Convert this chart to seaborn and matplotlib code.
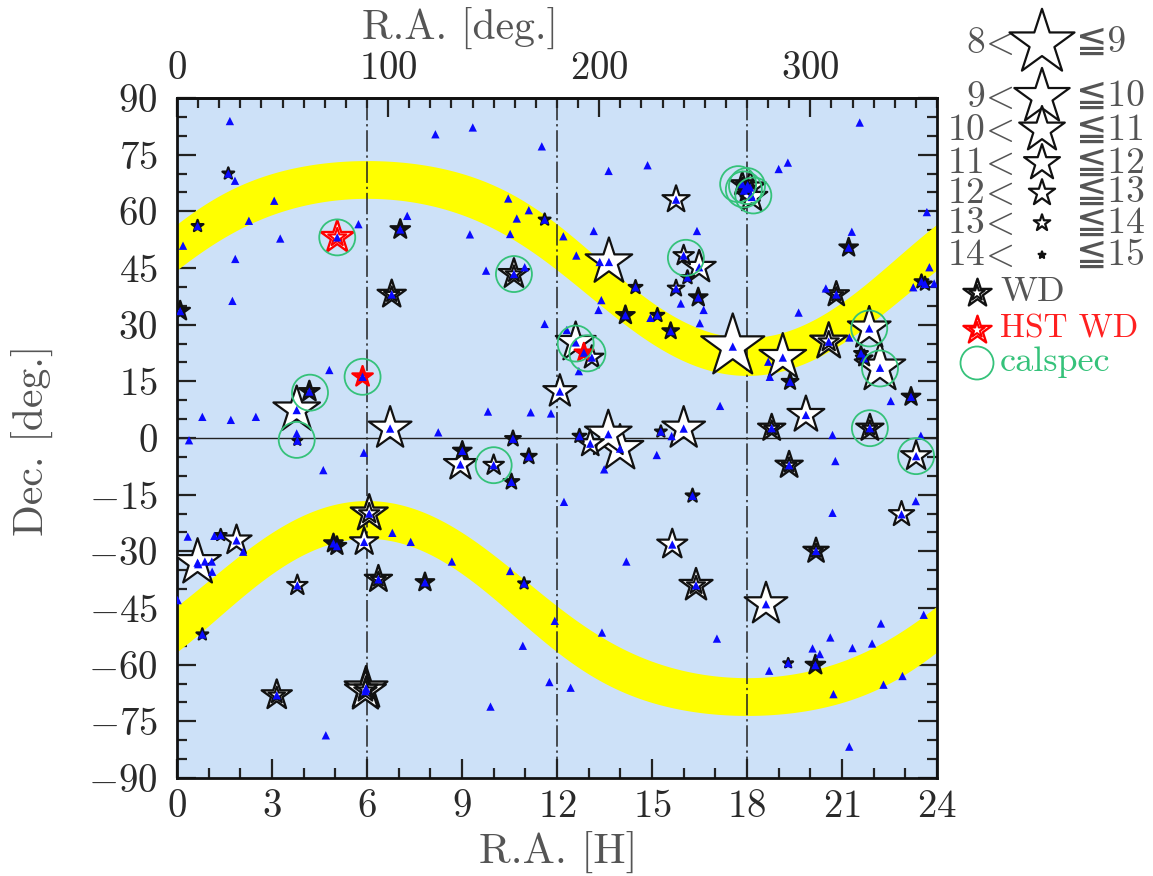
import numpy as np
import pandas as pd
import matplotlib
matplotlib.use("Agg")
import matplotlib.pyplot as plt
import seaborn as sns
from matplotlib.ticker import MultipleLocator

# ---------------- data ----------------
# ordinary standard stars (white stars): R.A. [h], Dec [deg], V magnitude
star_ra = [3.78, 6.73, 15.76, 13.64, 12.59, 13.10, 12.09, 17.55, 19.13, 21.86, 22.20, 19.86, 16.00, 16.00,
           16.49, 15.76, 18.15, 18.10, 13.62, 13.99, 13.05, 8.95, 10.00, 5.91, 3.80, 0.65, 1.88, 15.64,
           18.60, 22.88, 23.34]
star_dec = [7.4, 2.5, 63.1, 46.6, 25.3, 21.3, 12.3, 24.2, 21.3, 29.0, 18.6, 6.1, 2.5, 48.3, 45.2, 39.6,
            63.8, 66.3, 1.0, -2.8, -1.5, -7.0, -7.2, -27.5, -39.0, -33.0, -27.1, -28.2, -44.0, -20.2, -4.8]
star_mag = [10.4, 10.8, 12.4, 10.4, 11.1, 12.8, 11.8, 8.7, 10.4, 10.8, 10.0, 11.4, 10.8, 13.1, 11.8, 13.5,
            12.0, 12.0, 10.4, 10.4, 12.4, 11.8, 13.1, 12.3, 13.1, 10.4, 12.1, 12.1, 10.8, 12.6, 12.1]

# white dwarfs
wd_ra = [1.62, 0.65, 7.05, 0.10, 6.78, 4.18, 3.80, 11.61, 10.64, 14.48, 14.16, 15.17, 15.59, 12.71, 21.21,
         16.12, 16.46, 23.51, 23.62, 20.82, 19.36, 20.58, 21.60, 21.70, 23.18, 18.78, 21.88, 17.85, 17.98,
         9.01, 11.11, 10.56, 10.61, 6.07, 4.94, 5.05, 6.36, 7.83, 1.38, 0.80, 3.15, 5.97, 5.95, 10.96,
         19.33, 16.28, 20.18, 16.39, 19.30, 20.16, 15.28]
wd_dec = [70.0, 56.1, 55.2, 33.6, 38.0, 12.3, -0.7, 57.8, 43.4, 39.9, 32.5, 32.5, 28.3, 0.5, 50.4, 42.5,
          37.2, 41.4, 40.8, 38.0, 14.9, 25.5, 22.4, 21.1, 10.9, 2.6, 2.6, 67.2, 66.0, -3.4, -4.9, -11.6,
          -0.2, -20.0, -27.9, -28.6, -37.4, -38.2, -25.7, -52.0, -68.1, -66.3, -67.0, -38.5, -7.2, -15.3,
          -29.9, -39.0, -59.6, -60.1, 1.7]
wd_mag = [14.0, 14.0, 13.2, 13.2, 12.3, 13.1, 14.2, 14.0, 12.1, 13.8, 13.3, 13.8, 13.5, 13.8, 13.3, 13.8,
          13.3, 13.8, 13.8, 12.6, 13.5, 11.4, 13.8, 13.5, 13.3, 12.4, 12.4, 12.8, 13.3, 13.3, 13.6, 13.6,
          13.6, 11.4, 13.3, 13.3, 12.4, 13.3, 14.0, 14.0, 12.1, 10.8, 11.0, 14.0, 12.4, 13.8, 12.6, 11.8,
          14.2, 13.2, 14.0]

# HST white dwarfs
hst_ra = [5.06, 5.86, 12.85]
hst_dec = [53.1, 16.2, 22.6]
hst_mag = [11.8, 13.1, 13.3]

# CALSPEC stars (green circles)
cal_ra = [5.06, 5.86, 4.20, 3.78, 10.64, 12.59, 12.96, 16.07, 17.72, 18.00, 18.20, 17.90, 21.86, 22.20,
          21.88, 23.34, 10.00]
cal_dec = [53.1, 16.2, 12.0, -0.5, 43.4, 25.0, 22.4, 47.7, 67.2, 66.7, 64.2, 65.8, 29.0, 18.4, 2.6, -4.8,
           -7.2]

# other targets (blue triangles) not at star positions
tri_ra = [1.67, 1.83, 3.07, 2.27, 0.19, 3.26, 1.84, 5.73, 7.27, 1.75, 4.81, 0.80, 1.70, 2.49, 3.78, 0.38,
          8.16, 9.34, 11.52, 13.63, 14.86, 10.46, 11.11, 10.73, 9.25, 10.52, 12.20, 13.16, 12.61, 13.35,
          10.98, 9.76, 13.40, 13.31, 14.95, 11.61, 12.31, 12.69, 9.82, 11.17, 11.81, 8.25,
          21.56, 19.00, 19.29, 23.68, 21.31, 16.42, 16.63, 16.51, 15.91, 23.76, 23.25, 23.91, 20.49, 19.63,
          18.67, 18.72, 21.23, 22.54, 17.15, 20.70, 23.49, 17.90, 18.13, 18.02,
          5.90, 4.62, 6.80, 7.38, 0.67, 0.88, 1.10, 1.11, 0.34, 1.18, 2.09, 0.02, 4.70, 5.97,
          12.22, 14.19, 8.68, 10.52, 11.93, 13.42, 10.92, 11.76, 12.43, 9.90, 13.49, 15.15, 15.62,
          20.79, 20.70, 23.33, 17.05, 20.63, 20.07, 20.30, 21.33, 21.95, 22.23, 23.58, 18.70, 22.91, 22.31,
          20.73, 21.23]
tri_dec = [83.9, 68.1, 62.8, 57.5, 50.9, 52.8, 47.4, 56.6, 58.8, 36.3, 18.0, 5.6, 4.8, 5.6, 1.2, -0.6,
           80.4, 82.2, 77.2, 70.7, 72.2, 63.4, 60.3, 58.1, 53.9, 54.0, 53.4, 54.8, 48.3, 46.6,
           45.2, 44.3, 36.5, 33.9, 31.8, 30.2, 28.6, 17.7, 7.0, 6.8, 6.5, 1.5,
           83.5, 71.2, 72.9, 59.8, 54.6, 54.8, 33.9, 30.4, 35.6, 45.2, 39.9, 40.9, 39.6, 33.2,
           20.2, 16.2, 26.6, 9.8, 8.5, 0.8, 0.6, 65.5, 64.3, 66.9,
           -3.9, -8.5, -25.1, -27.5, -33.4, -32.7, -32.7, -35.4, -26.1, -25.9, -30.1, -42.9, -78.7, -66.3,
           -16.9, -32.7, -32.7, -35.2, -48.4, -51.5, -55.0, -64.6, -66.1, -71.1, -8.3, -4.5, 0.5,
           -6.1, -19.8, -16.7, -53.1, -52.8, -55.7, -57.2, -55.6, -54.4, -49.1, -46.8, -61.6, -63.0, -65.3,
           -67.8, -81.7]

# yellow bands: |ecliptic latitude| between these limits
band_beta = [40.0, 50.0]
obliquity = 23.44

# legend
legend_bins = ["8", "9", "10", "11", "12", "13", "14", "15"]
legend_mag = [8.5, 9.5, 10.5, 11.5, 12.5, 13.5, 14.5]

xticks_h = [0, 3, 6, 9, 12, 15, 18, 21, 24]
xticks_deg = [0, 100, 200, 300]
yticks = list(range(-90, 91, 15))

# ---------------- style ----------------
sns.set_style("ticks")
plt.rcParams["font.family"] = ["cmr10", "DejaVu Sans"]
plt.rcParams["mathtext.fontset"] = "cm"
plt.rcParams["axes.unicode_minus"] = False
plt.rcParams["axes.formatter.use_mathtext"] = True

W, H = 1153, 876
fig = plt.figure(figsize=(W / 100, H / 100), dpi=100)
ax = fig.add_axes([177 / W, 1 - 778 / H, 760 / W, 680 / H])
ax.set_facecolor("#cde1f8")
ax.set_xlim(0, 24)
ax.set_ylim(-90, 90)

PX = 100 / 72.0


def star_ms(mag):
    # marker size (points) so that star width shrinks ~10 px per magnitude
    width_px = 65 - 9.7 * (mag - 8.5)
    return width_px / (0.951 * PX)


def dec_of_beta(ra_h, beta):
    a = np.radians(np.asarray(ra_h) * 15.0)
    e = np.radians(obliquity)
    A = np.cos(e)
    B = -np.sin(e) * np.sin(a)
    R = np.hypot(A, B)
    phi = np.arctan2(B, A)
    return np.degrees(np.arcsin(np.sin(np.radians(beta)) / R) - phi)


ra_grid = np.linspace(0, 24, 721)
ax.fill_between(ra_grid, dec_of_beta(ra_grid, band_beta[0]), dec_of_beta(ra_grid, band_beta[1]),
                color="#ffff00", lw=0, zorder=1)
ax.fill_between(ra_grid, dec_of_beta(ra_grid, -band_beta[0]), dec_of_beta(ra_grid, -band_beta[1]),
                color="#ffff00", lw=0, zorder=1)

for x in (6, 12, 18):
    ax.axvline(x, color="#222222", lw=1.1, ls=(0, (14, 2.5, 1.5, 2.5)), zorder=2)
ax.axhline(0, color="#222222", lw=1.0, zorder=2)


def draw_stars(axis, ra, dec, mag, face, edge, lw, scale=1.0, z=3):
    df = pd.DataFrame({"ra": ra, "dec": dec,
                       "area": [round((scale * star_ms(m)) ** 2, 3) for m in mag]})
    df = df.sort_values("area", ascending=False).reset_index(drop=True)
    sizes = {a: a for a in df["area"].unique()}
    sns.scatterplot(data=df, x="ra", y="dec", size="area", sizes=sizes, marker="*",
                    color=face, edgecolor=edge, linewidth=lw, legend=False, ax=axis, zorder=z)


# ordinary stars
draw_stars(ax, star_ra, star_dec, star_mag, "white", "#111111", 1.6, z=3)
# white dwarfs (double outline)
draw_stars(ax, wd_ra, wd_dec, wd_mag, "white", "#111111", 1.7, z=4)
draw_stars(ax, wd_ra, wd_dec, wd_mag, "none", "#111111", 1.5, scale=0.55, z=4.1)
# HST white dwarfs
draw_stars(ax, hst_ra, hst_dec, hst_mag, "white", "#ff0000", 1.7, z=4.2)
draw_stars(ax, hst_ra, hst_dec, hst_mag, "none", "#ff0000", 1.5, scale=0.55, z=4.3)

# blue triangles at every target
all_ra = tri_ra + star_ra + wd_ra + hst_ra
all_dec = tri_dec + star_dec + wd_dec + hst_dec
sns.scatterplot(x=all_ra, y=all_dec, marker="^", color="#0a0aff", s=36, edgecolor="none",
                linewidth=0, legend=False, ax=ax, zorder=6)

# calspec circles
sns.scatterplot(x=cal_ra, y=cal_dec, marker="o", color="#35c27a", facecolor="none",
                edgecolor="#35c27a", s=(36 / PX) ** 2, linewidth=1.3, legend=False, ax=ax, zorder=7)

# ---------------- axes / ticks ----------------
tick_col = "#2a2a2a"
ax.set_xticks(xticks_h)
ax.xaxis.set_minor_locator(MultipleLocator(1))
ax.set_yticks(yticks)
ax.yaxis.set_minor_locator(MultipleLocator(5))
ax.tick_params(which="both", direction="in", right=True, top=False, width=1.6, colors="#222222",
               labelcolor=tick_col, labelsize=28)
ax.tick_params(which="major", length=14)
ax.tick_params(which="minor", length=7)
ax.tick_params(axis="x", pad=8)
ax.tick_params(axis="y", pad=14)
for s in ax.spines.values():
    s.set_linewidth(2.0)
    s.set_color("#111111")
ax.set_xlabel("")
ax.set_ylabel("")

sec = ax.secondary_xaxis("top", functions=(lambda h: h * 15.0, lambda d: d / 15.0))
sec.set_xticks(xticks_deg)
sec.xaxis.set_minor_locator(MultipleLocator(10))
sec.tick_params(which="both", direction="in", width=1.6, colors="#222222", labelcolor=tick_col,
                labelsize=28, pad=8)
sec.tick_params(which="major", length=14)
sec.tick_params(which="minor", length=7)
sec.spines["top"].set_linewidth(2.0)

# ---------------- overlay for labels & legend (pixel coordinates) ----------------
lax = fig.add_axes([0, 0, 1, 1], zorder=10)
lax.set_xlim(0, W)
lax.set_ylim(H, 0)
lax.axis("off")

lab_col = "#555555"
lax.text(460, 28, "R.A. [deg.]", ha="center", va="center", fontsize=30, color=lab_col)
lax.text(558, 852, "R.A. [H]", ha="center", va="center", fontsize=31, color=lab_col)
lax.text(32, 440, "Dec. [deg.]", ha="center", va="center", fontsize=30, color=lab_col, rotation=90)

row_y = [43, 97, 130, 163, 193, 223, 255]
for i, (m, y) in enumerate(zip(legend_mag, row_y)):
    lax.text(1014, y, legend_bins[i] + r"$\!<\!$", ha="right", va="center", fontsize=27, color=lab_col)
    lax.text(1076, y, "\u2266" + legend_bins[i + 1], ha="left", va="center", fontsize=27, color=lab_col)
draw_stars(lax, [1042] * 7, row_y, legend_mag, "white", "#111111", 1.6, z=3)

leg_wd_mag = 12.3
draw_stars(lax, [977], [293], [leg_wd_mag], "white", "#111111", 1.7, z=3)
draw_stars(lax, [977], [293], [leg_wd_mag], "none", "#111111", 1.5, scale=0.55, z=3.1)
draw_stars(lax, [977], [330], [leg_wd_mag], "white", "#ff0000", 1.7, z=3)
draw_stars(lax, [977], [330], [leg_wd_mag], "none", "#ff0000", 1.5, scale=0.55, z=3.1)
sns.scatterplot(x=[977], y=[363], marker="o", color="#35c27a", facecolor="none", edgecolor="#35c27a",
                s=(33 / PX) ** 2, linewidth=1.3, legend=False, ax=lax)
lax.text(1000, 292, "WD", ha="left", va="center", fontsize=26, color=lab_col)
lax.text(1000, 329, "HST WD", ha="left", va="center", fontsize=24, color="#ff2020")
lax.text(1000, 362, "calspec", ha="left", va="center", fontsize=26, color="#35c27a")
lax.set_xlim(0, W)
lax.set_ylim(H, 0)

fig.savefig("out.png", dpi=100)
